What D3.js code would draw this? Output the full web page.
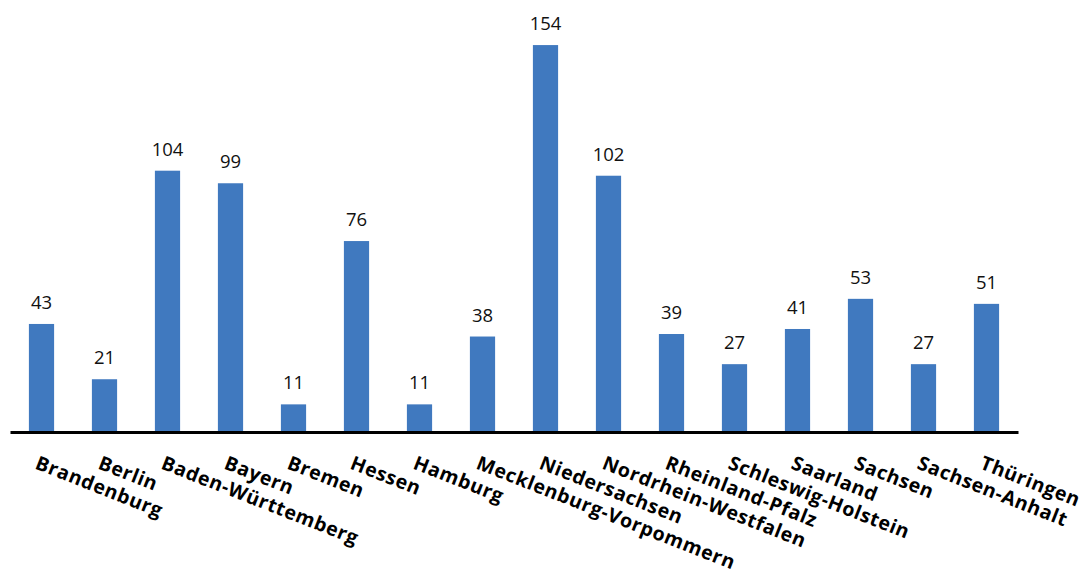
<!DOCTYPE html>
<html>
<head>
<meta charset="utf-8">
<script src="https://cdn.jsdelivr.net/npm/d3@7"></script>
<style>
  body { margin: 0; background: #fff; }
  svg { display: block; }
</style>
</head>
<body>
<div id="chart"></div>
<script>
// Bundesländer und Werte
var laender = ["Brandenburg", "Berlin", "Baden-Württemberg", "Bayern", "Bremen", "Hessen",
  "Hamburg", "Mecklenburg-Vorpommern", "Niedersachsen", "Nordrhein-Westfalen",
  "Rheinland-Pfalz", "Schleswig-Holstein", "Saarland", "Sachsen", "Sachsen-Anhalt", "Thüringen"];
var werte = [43, 21, 104, 99, 11, 76, 11, 38, 154, 102, 39, 27, 41, 53, 27, 51];

var width = 1089, height = 574;
var barColor = "#4079bf";
var baseY = 432;

var svg = d3.select("#chart").append("svg")
    .attr("width", width)
    .attr("height", height);

var x = d3.scaleBand()
    .domain(laender)
    .range([10, 1018])
    .paddingInner(0.6)
    .paddingOuter(0.3);

var y = d3.scaleLinear()
    .domain([0, 160])
    .range([baseY, 30]);

// bars
svg.append("g").selectAll("rect")
    .data(laender)
    .enter().append("rect")
    .attr("x", function (d) { return x(d); })
    .attr("y", function (d, i) { return y(werte[i]); })
    .attr("width", x.bandwidth())
    .attr("height", function (d, i) { return baseY - y(werte[i]); })
    .attr("fill", barColor);

// value labels
svg.append("g").selectAll("text")
    .data(laender)
    .enter().append("text")
    .attr("x", function (d) { return x(d) + x.bandwidth() / 2; })
    .attr("y", function (d, i) { return y(werte[i]) - 15; })
    .attr("text-anchor", "middle")
    .style("font-family", "'Open Sans', sans-serif")
    .style("font-size", "18.5px")
    .style("fill", "#111")
    .text(function (d, i) { return werte[i]; });

// x axis
var xAxis = svg.append("g")
    .attr("transform", "translate(0," + baseY + ")")
    .call(d3.axisBottom(x).tickSize(0).tickSizeOuter(0));

xAxis.select(".domain")
    .attr("stroke", "#000")
    .attr("stroke-width", 3);

xAxis.selectAll(".tick text")
    .attr("x", 0)
    .attr("y", 0)
    .attr("dy", "0.9em")
    .attr("transform", "translate(-1,20) rotate(21.5)")
    .attr("text-anchor", "start")
    .style("font-family", "'Open Sans', sans-serif")
    .style("font-weight", "bold")
    .style("font-size", "19.5px")
    .style("letter-spacing", "0.6px")
    .style("fill", "#000");
</script>
</body>
</html>
